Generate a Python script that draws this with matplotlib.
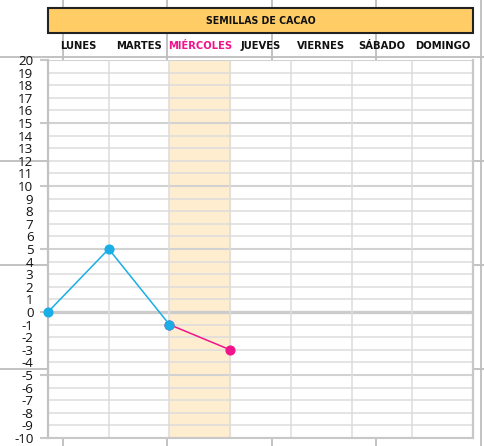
import numpy as np
from matplotlib import pyplot as plt
from matplotlib.patches import Rectangle
import matplotlib.transforms as mtransforms

plt.rcParams["axes.unicode_minus"] = False

# data
title = "SEMILLAS DE CACAO"
days = ["LUNES", "MARTES", "MIÉRCOLES", "JUEVES", "VIERNES", "SÁBADO", "DOMINGO"]
highlight_day = 2
blue_x = [0, 1, 2]
blue_y = [0, 5, -1]
pink_x = [2, 3]
pink_y = [-1, -3]
y_min, y_max = -10, 20

# background sheet lines (pixel positions)
bg_vlines = [63, 167, 272, 376, 481]
bg_hlines = [56.5, 160.5, 264.5, 368.5]

W, H = 484, 446
fig = plt.figure(figsize=(W / 100, H / 100), dpi=100)

bg = fig.add_axes([0, 0, 1, 1], zorder=0)
bg.set_xlim(0, W)
bg.set_ylim(H, 0)
bg.axis("off")
for v in bg_vlines:
    bg.axvline(v, color="#bdbdbd", lw=1.3)
for h in bg_hlines:
    bg.axhline(h, color="#bdbdbd", lw=1.3)

L, R, T, B = 48, 473, 60, 438
ax = fig.add_axes([L / W, (H - B) / H, (R - L) / W, (B - T) / H], zorder=1)
ax.set_facecolor("white")
ax.set_xlim(0, len(days))
ax.set_ylim(y_min, y_max)

ax.axvspan(highlight_day, highlight_day + 1, color="#ffedcf", zorder=0)

# grid
for v in range(y_min, y_max + 1):
    if v == 0:
        ax.axhline(v, color="#cccccc", lw=2.4, zorder=1)
    elif v % 5 == 0:
        ax.axhline(v, color="#d2d2d2", lw=1.5, zorder=1)
    else:
        ax.axhline(v, color="#dddddd", lw=1.1, zorder=1)
for i in range(1, len(days)):
    ax.axvline(i, color="#dcdcdc", lw=1.1, zorder=1)

ax.plot(pink_x, pink_y, color="#f0148c", lw=1.1, marker="o", ms=6.3, zorder=3, clip_on=False)
ax.plot(blue_x, blue_y, color="#1aaee6", lw=1.1, marker="o", ms=6.3, zorder=3, clip_on=False)

ax.set_xticks([])
ax.set_yticks(range(y_min, y_max + 1))
ax.set_yticks(range(y_min, y_max + 1, 5), minor=True)
ax.yaxis.remove_overlapping_locs = False
ax.tick_params(axis="y", which="major", length=0, pad=10.5, labelsize=9.6, labelcolor="#111111")
ax.tick_params(axis="y", which="minor", length=5.8, width=1.5, color="#c8c8c8")
for lab in ax.get_yticklabels():
    lab.set_family(["Open Sans", "DejaVu Sans"])

ax.spines["top"].set_visible(False)
ax.spines["left"].set_color("#c2c2c2")
ax.spines["left"].set_linewidth(1.6)
ax.spines["bottom"].set_color("#c8c8c8")
ax.spines["bottom"].set_linewidth(1.5)
ax.spines["right"].set_color("#c8c8c8")
ax.spines["right"].set_linewidth(1.6)

# day labels
head_font = dict(fontweight="bold", family="DejaVu Sans", fontstretch="condensed")
trans = mtransforms.blended_transform_factory(ax.transData, ax.transAxes)
for i, d in enumerate(days):
    ax.text(i + 0.5, 1 + 14 / (B - T), d, transform=trans, ha="center", va="center",
            fontsize=8, color="#f0148c" if i == highlight_day else "#111111", **head_font)

# title box
fig.patches.append(Rectangle((L / W, (H - 33) / H), (R - L) / W, 25 / H,
                             transform=fig.transFigure, facecolor="#ffcc66",
                             edgecolor="#222222", lw=1.5, zorder=2))
fig.text((L + R) / 2 / W, (H - 20.5) / H, title, ha="center", va="center",
         fontsize=7.6, color="#111111", zorder=3, **head_font)

fig.savefig("out.png", dpi=100)
